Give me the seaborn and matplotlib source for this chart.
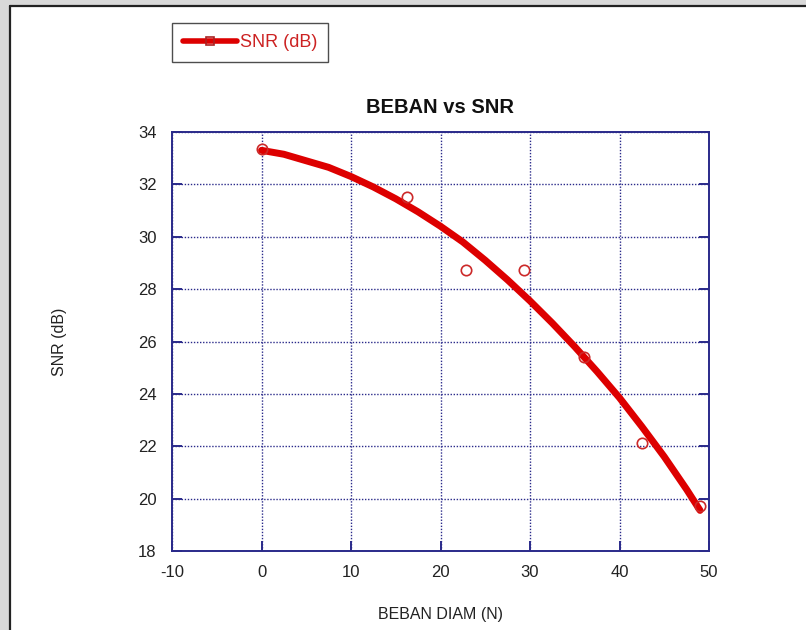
import matplotlib
matplotlib.use("Agg")
import matplotlib.pyplot as plt
from matplotlib.patches import Rectangle
from matplotlib.lines import Line2D
import seaborn as sns
import pandas as pd

# measured points
beban = [0, 16.3, 22.8, 29.3, 36.0, 42.5, 49.0]
snr = [33.34, 31.50, 28.73, 28.73, 25.42, 22.14, 19.72]

# fitted curve
curve_x = [0, 2.5, 5, 7.5, 10, 12.5, 15, 17.5, 20, 22.5, 25, 27.5, 30,
           32.5, 35, 37.5, 40, 42.5, 45, 47.5, 49]
curve_y = [33.3, 33.15, 32.9, 32.65, 32.3, 31.9, 31.45, 30.95, 30.4, 29.8,
           29.1, 28.35, 27.55, 26.7, 25.8, 24.85, 23.85, 22.75, 21.6, 20.35, 19.55]

xticks = [-10, 0, 10, 20, 30, 40, 50]
yticks = [18, 20, 22, 24, 26, 28, 30, 32, 34]

title = "BEBAN vs SNR"
xlabel = "BEBAN DIAM (N)"
ylabel = "SNR (dB)"
legend_label = "SNR (dB)"

sns.set_style("white")
plt.rcParams["font.family"] = ["Liberation Sans", "DejaVu Sans"]

W, H = 806, 630
fig = plt.figure(figsize=(W / 100, H / 100), dpi=100)
fig.patch.set_facecolor("white")

# outer frame pieces (grey margin + black border)
fig.add_artist(Rectangle((0, 0), 8 / W, 1, transform=fig.transFigure, color="#d9d9d9", zorder=0))
fig.add_artist(Rectangle((0, 1 - 4 / H), 1, 4 / H, transform=fig.transFigure, color="#d9d9d9", zorder=0))
fig.add_artist(Line2D([9.5 / W, 9.5 / W], [0, 1 - 5.5 / H], transform=fig.transFigure, color="#222222", lw=1.6))
fig.add_artist(Line2D([9.5 / W, 1], [1 - 5.5 / H, 1 - 5.5 / H], transform=fig.transFigure, color="#222222", lw=1.6))

ax = fig.add_axes([172 / W, 1 - 551 / H, (709 - 172) / W, (551 - 132) / H])
ax.set_facecolor("white")

navy = "#2a2a8a"
df_curve = pd.DataFrame({"x": curve_x, "y": curve_y})
df_pts = pd.DataFrame({"x": beban, "y": snr})

sns.lineplot(data=df_curve, x="x", y="y", ax=ax, color="#dd0000", lw=5.0,
             solid_capstyle="round", solid_joinstyle="round", zorder=3)
sns.lineplot(data=df_pts, x="x", y="y", ax=ax, linestyle="none", marker="o",
             markersize=7.5, markerfacecolor="none", markeredgecolor="#cc2a2a",
             markeredgewidth=1.2, zorder=4)

ax.set_xlim(-10, 50)
ax.set_ylim(18, 34)
ax.set_xticks(xticks)
ax.set_yticks(yticks)
ax.set_xticklabels([str(t) for t in xticks])
ax.set_yticklabels([str(t) for t in yticks])

ax.grid(True, color=navy, linestyle=(0, (1, 1.2)), linewidth=1.0)
for s in ax.spines.values():
    s.set_color(navy)
    s.set_linewidth(1.4)
    s.set_visible(True)

ax.tick_params(axis="both", which="both", direction="in", length=7, width=1.4,
               color=navy, labelsize=12, labelcolor="#222222",
               top=False, right=True, left=True, bottom=True)
ax.tick_params(axis="y", pad=11)
ax.tick_params(axis="x", pad=10)

ax.set_title(title, fontsize=14.5, fontweight="bold", pad=13.5, color="#111111")
ax.set_xlabel(xlabel, fontsize=11.5, labelpad=19.5, color="#222222")
ax.set_ylabel(ylabel, fontsize=11.5, labelpad=51, color="#222222")

handle = Line2D([], [], color="#dd0000", lw=4, marker="s", markersize=5.5,
                markerfacecolor="none", markeredgecolor="#aa2222", markeredgewidth=1.2)
leg = fig.legend([handle], [legend_label], loc="upper left",
                 bbox_to_anchor=(172 / W, 1 - 23 / H), fontsize=13,
                 frameon=True, fancybox=False, edgecolor="#222222",
                 handlelength=3.0, handletextpad=0.15, borderpad=0.6,
                 borderaxespad=0)
leg.get_frame().set_linewidth(1.0)
for t in leg.get_texts():
    t.set_color("#cc2222")

fig.savefig("out.png", dpi=100)
